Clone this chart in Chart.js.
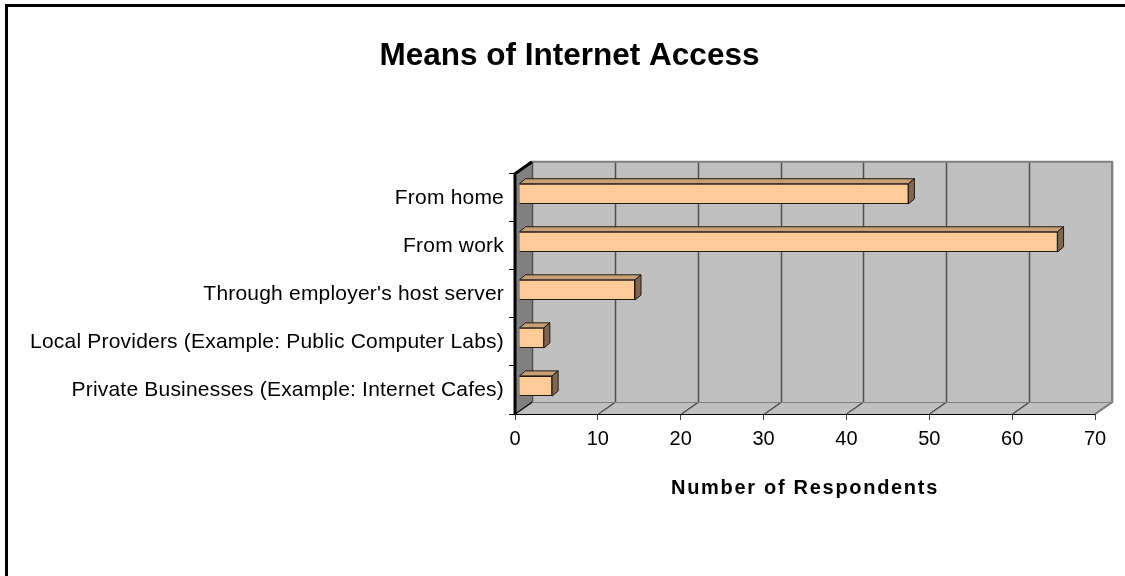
<!DOCTYPE html>
<html lang="en">
<head>
    <meta charset="UTF-8">
    <title>Means of Internet Access</title>
    <script src="https://cdn.jsdelivr.net/npm/chart.js"></script>
    <style>
        html, body { margin: 0; padding: 0; background: #fff; overflow: hidden; }
        #wrap { position: relative; width: 1125px; height: 576px; }
        #frame { position: absolute; left: 5px; top: 4px; width: 1125px; height: 576px; border-left: 3px solid #000; border-top: 3px solid #000; }
        canvas { position: absolute; left: 0; top: 0; }
    </style>
</head>
<body>
    <div id="wrap">
        <div id="frame"></div>
        <canvas id="chart" width="1125" height="576"></canvas>
    </div>

    <script>
        const categories = [
            "From home",
            "From work",
            "Through employer's host server",
            "Local Providers (Example: Public Computer Labs)",
            "Private Businesses (Example: Internet Cafes)",
        ];
        const respondents = [47, 65, 14, 3, 4];
        const valueTicks = [0, 10, 20, 30, 40, 50, 60, 70];

        // depth of the fake 3D box, and how far the bars sit inside it
        const wallDx = 17, wallDy = 12;
        const barDx = 4, barDy = 4;
        const barDepthX = 6, barDepthY = 5;

        // the reference text is spaced wider than the font gives
        function spaceOut(chart, scale, method, spacing) {
            const original = scale[method];
            scale[method] = function (...args) {
                chart.ctx.letterSpacing = spacing;
                original.apply(this, args);
                chart.ctx.letterSpacing = "0px";
            };
        }

        // back wall, floor, side wall, gridlines
        const box3d = {
            id: "box3d",
            afterLayout(chart) {
                // title is centred a bit right of the canvas middle
                chart.titleBlock.left += 22;
                chart.titleBlock.right += 22;
            },
            afterInit(chart) {
                chart.$spaced = false;
            },
            beforeDraw(chart) {
                if (!chart.$spaced) {
                    spaceOut(chart, chart.scales.x, "drawTitle", "1.7px");
                    spaceOut(chart, chart.scales.y, "drawLabels", "0.2px");
                    chart.$spaced = true;
                }
            },
            beforeDatasetsDraw(chart) {
                const { ctx, chartArea: a, scales: { x } } = chart;
                const poly = (pts, fill) => {
                    ctx.beginPath();
                    pts.forEach((p, i) => (i ? ctx.lineTo(p[0], p[1]) : ctx.moveTo(p[0], p[1])));
                    ctx.closePath();
                    ctx.fillStyle = fill;
                    ctx.fill();
                };
                ctx.save();
                // back wall
                poly([[a.left + wallDx, a.top - wallDy], [a.right + wallDx, a.top - wallDy],
                      [a.right + wallDx, a.bottom - wallDy], [a.left + wallDx, a.bottom - wallDy]], "#c0c0c0");
                // floor
                poly([[a.left, a.bottom], [a.right, a.bottom],
                      [a.right + wallDx, a.bottom - wallDy], [a.left + wallDx, a.bottom - wallDy]], "#c0c0c0");
                // left side wall
                poly([[a.left, a.top], [a.left + wallDx, a.top - wallDy],
                      [a.left + wallDx, a.bottom - wallDy], [a.left, a.bottom]], "#808080");

                ctx.lineWidth = 1.5;
                ctx.strokeStyle = "#505050";
                valueTicks.forEach((v) => {
                    const px = Math.round(x.getPixelForValue(v)) + 0.5;
                    ctx.beginPath();
                    ctx.moveTo(px, a.bottom);
                    ctx.lineTo(px + wallDx, a.bottom - wallDy);
                    ctx.lineTo(px + wallDx, a.top - wallDy);
                    ctx.stroke();
                });

                // edges of the box
                ctx.strokeStyle = "#808080";
                ctx.lineWidth = 2;
                ctx.beginPath();
                ctx.moveTo(a.left + wallDx, a.top - wallDy);
                ctx.lineTo(a.right + wallDx, a.top - wallDy);
                ctx.lineTo(a.right + wallDx, a.bottom - wallDy);
                ctx.lineTo(a.right, a.bottom);
                ctx.stroke();
                ctx.lineWidth = 1;
                ctx.beginPath();
                ctx.moveTo(a.left + wallDx, a.bottom - wallDy + 0.5);
                ctx.lineTo(a.right + wallDx, a.bottom - wallDy + 0.5);
                ctx.stroke();

                // thick corner of the value axis
                ctx.strokeStyle = "#000";
                ctx.lineWidth = 3;
                ctx.beginPath();
                ctx.moveTo(a.left, a.bottom);
                ctx.lineTo(a.left, a.top);
                ctx.lineTo(a.left + wallDx, a.top - wallDy);
                ctx.stroke();
                ctx.lineWidth = 1;
                ctx.beginPath();
                ctx.moveTo(a.left, a.bottom);
                ctx.lineTo(a.left + wallDx, a.bottom - wallDy);
                ctx.stroke();
                ctx.restore();

                // bars are drawn shifted into the box
                ctx.save();
                ctx.translate(barDx, -barDy);
            },
            afterDatasetsDraw(chart) {
                const { ctx } = chart;
                chart.getDatasetMeta(0).data.forEach((bar) => {
                    const { x, y, base, height } = bar.getProps(["x", "y", "base", "height"], true);
                    const top = y - height / 2, bottom = y + height / 2;
                    ctx.lineWidth = 1;
                    ctx.strokeStyle = "#221a10";
                    // top face
                    ctx.beginPath();
                    ctx.moveTo(base, top);
                    ctx.lineTo(base + barDepthX, top - barDepthY);
                    ctx.lineTo(x + barDepthX, top - barDepthY);
                    ctx.lineTo(x, top);
                    ctx.closePath();
                    ctx.fillStyle = "#c8a078";
                    ctx.fill();
                    ctx.stroke();
                    // right face
                    ctx.beginPath();
                    ctx.moveTo(x, top);
                    ctx.lineTo(x + barDepthX, top - barDepthY);
                    ctx.lineTo(x + barDepthX, bottom - barDepthY);
                    ctx.lineTo(x, bottom);
                    ctx.closePath();
                    ctx.fillStyle = "#806650";
                    ctx.fill();
                    ctx.stroke();
                });
                ctx.restore();
            },
        };

        new Chart(document.getElementById("chart"), {
            type: "bar",
            plugins: [box3d],
            data: {
                labels: categories,
                datasets: [{
                    data: respondents,
                    backgroundColor: "#ffcc99",
                    borderColor: "#221a10",
                    borderWidth: 1,
                    categoryPercentage: 0.42,
                    barPercentage: 1,
                }],
            },
            options: {
                indexAxis: "y",
                responsive: false,
                animation: false,
                layout: { padding: { left: 0, right: 30, top: 0, bottom: 0 } },
                plugins: {
                    legend: { display: false },
                    tooltip: { enabled: false },
                    title: {
                        display: true,
                        text: "Means of Internet Access",
                        color: "#000",
                        font: { family: "'Liberation Sans', Arial", size: 31.5, weight: "bold" },
                        padding: { top: 37, bottom: 99 },
                    },
                },
                scales: {
                    x: {
                        type: "linear",
                        min: 0,
                        max: 70,
                        afterBuildTicks: (axis) => { axis.ticks = valueTicks.map((v) => ({ value: v })); },
                        grid: { drawOnChartArea: false, color: "#404040", tickLength: 6 },
                        border: { color: "#000", width: 2 },
                        ticks: {
                            color: "#000",
                            font: { family: "'Liberation Sans', Arial", size: 20 },
                            padding: 7,
                            maxRotation: 0,
                        },
                        title: {
                            display: true,
                            text: "Number of Respondents",
                            color: "#000",
                            font: { family: "'Liberation Sans', Arial", size: 20, weight: "bold" },
                            padding: { top: 18, bottom: 76 },
                        },
                    },
                    y: {
                        grid: { drawOnChartArea: false, color: "#000", tickLength: 6 },
                        border: { display: false },
                        afterFit: (axis) => { axis.width = 515; },
                        ticks: {
                            color: "#000",
                            font: { family: "'Liberation Sans', Arial", size: 21 },
                            padding: 5,
                            autoSkip: false,
                        },
                    },
                },
            },
        });
    </script>
</body>
</html>
